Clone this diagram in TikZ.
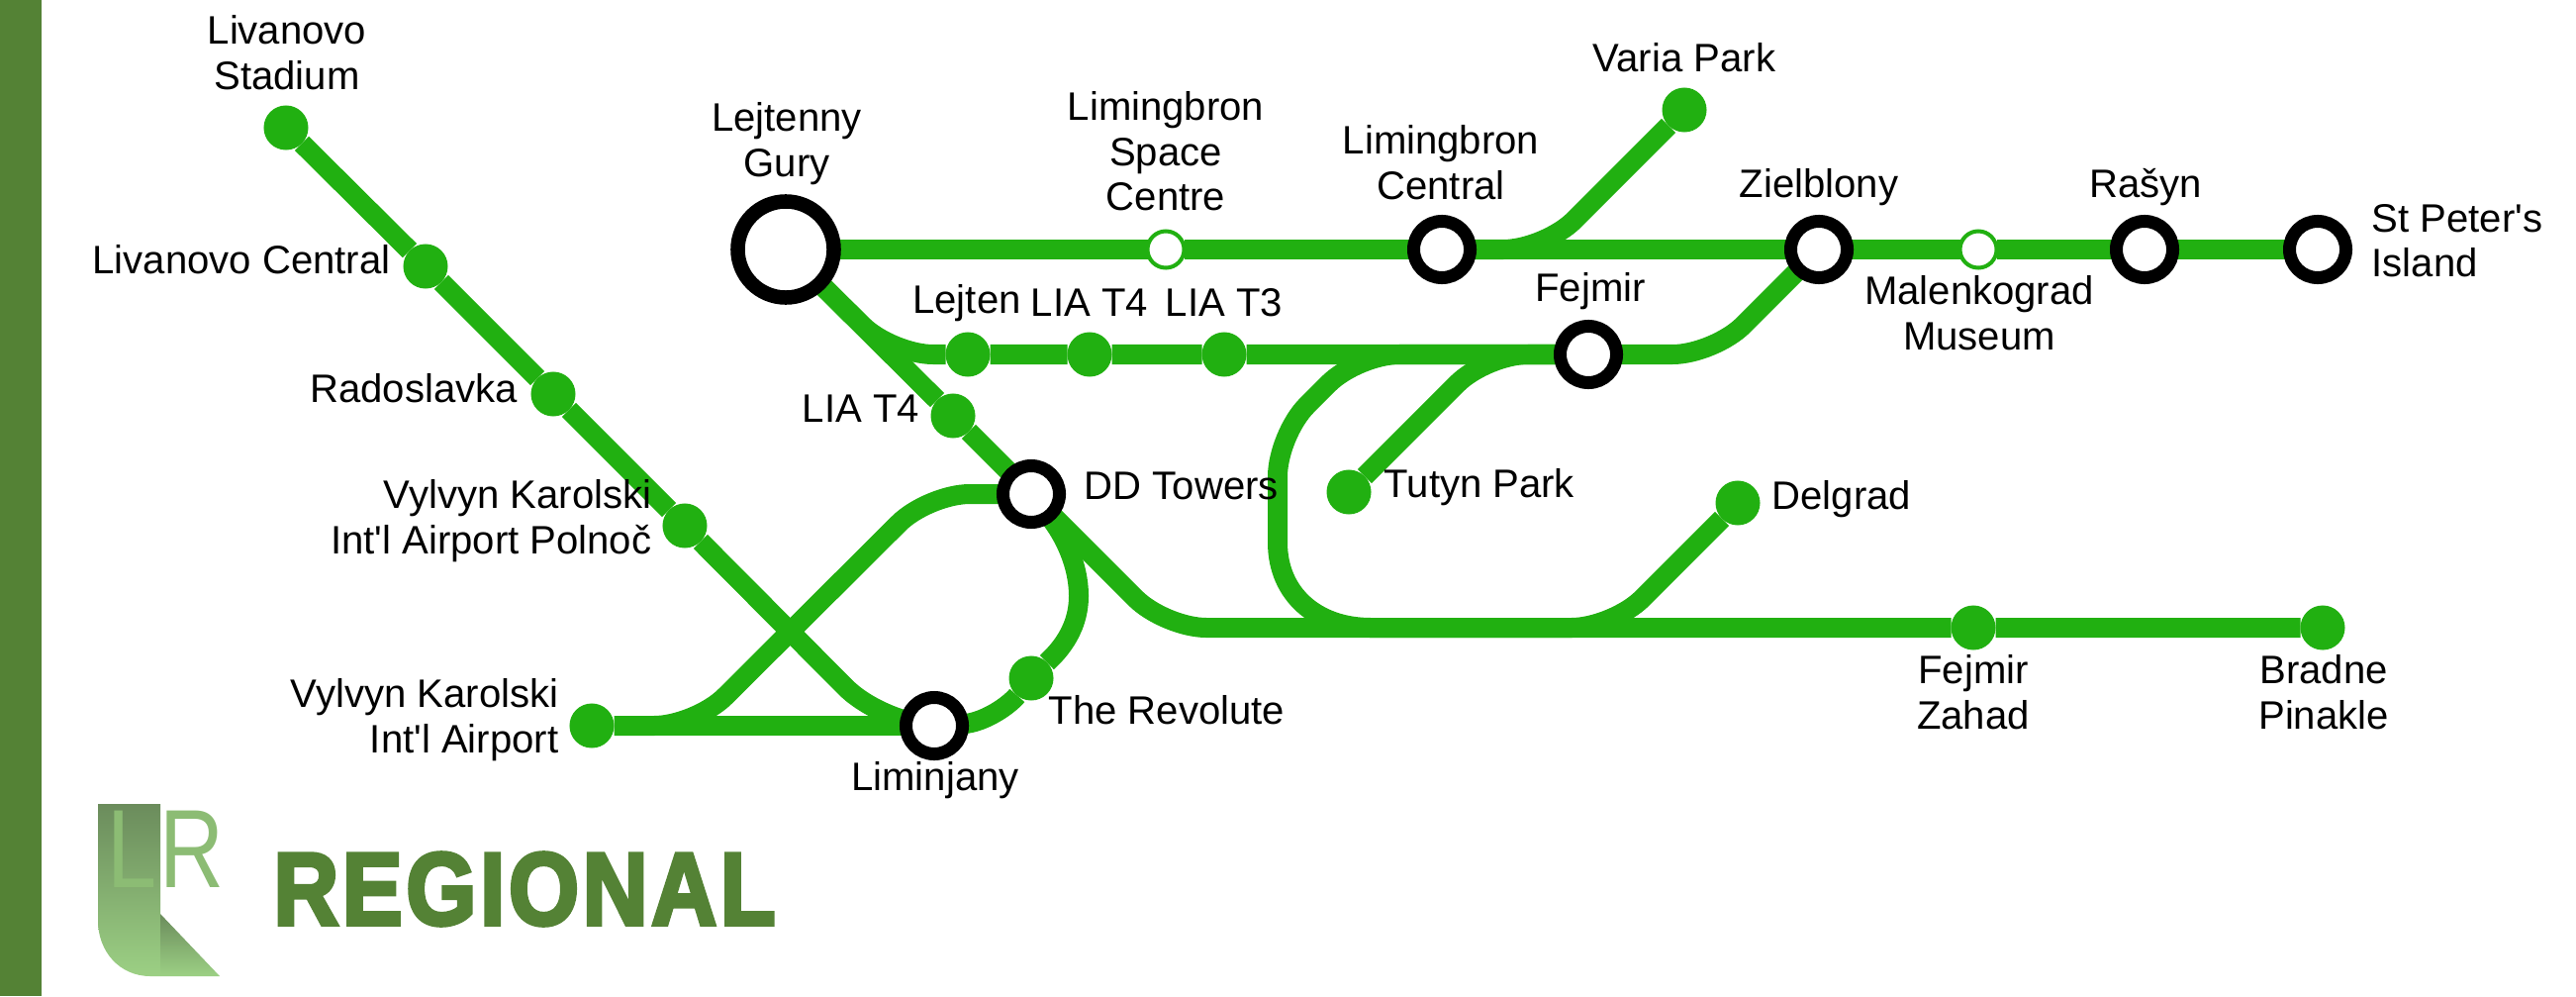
\documentclass[tikz,border=0pt]{standalone}
\usepackage{fontspec}
\usepackage{xcolor}
\usepackage{tikz}
\usetikzlibrary{backgrounds}
\setmainfont[Ligatures=TeXOff]{Liberation Sans}
\newfontfamily\regionalfont[LetterSpace=4,BoldFeatures={FakeBold=4}]{Liberation Sans}
\definecolor{linegreen}{HTML}{21B011}
\definecolor{bargreen}{HTML}{548235}
\definecolor{logoletter}{HTML}{8CBC74}
\definecolor{logotop}{HTML}{6B8C5C}
\definecolor{logobottom}{HTML}{9CD084}
\tikzset{
  metrocurve/.style={draw=linegreen,line width=0.2cm},
  metroline/.style={metrocurve,rounded corners=0.42cm},
  stopdot/.style={circle,fill=linegreen,minimum size=0.45cm,inner sep=0pt,outer sep=0pt},
  opendot/.style={circle,draw=linegreen,fill=white,line width=0.04cm,minimum size=0.37cm,inner sep=0pt,outer sep=0pt},
  ringstop/.style={circle,draw=black,fill=white,line width=0.13cm,minimum size=0.57cm,inner sep=0pt,outer sep=0pt},
  bigring/.style={circle,draw=black,fill=white,line width=0.145cm,minimum size=0.97cm,inner sep=0pt,outer sep=0pt},
  stationtext/.style={inner sep=0pt,align=center,font=\fontsize{11.4pt}{12.9pt}\selectfont},
}
\begin{document}
\begin{tikzpicture}[x=0.01cm,y=-0.01cm]
    \useasboundingbox (0,0) rectangle (2603,1006);
    \fill[bargreen] (0,0) rectangle (42,1006);
    % stations
    \node[stopdot] (stadium) at (289,129) {};
    \node[stopdot] (livcentral) at (430,269) {};
    \node[stopdot] (radoslavka) at (559,398) {};
    \node[stopdot] (polnoc) at (692,531) {};
    \node[ringstop] (liminjany) at (944,733) {};
    \node[stopdot] (airport) at (598,733) {};
    \node[ringstop] (ddtowers) at (1042,499) {};
    \node[stopdot] (revolute) at (1042,685) {};
    \node[bigring] (gury) at (794,252) {};
    \node[opendot] (spacecentre) at (1178,252) {};
    \node[ringstop] (limcentral) at (1457,252) {};
    \node[stopdot] (varia) at (1702,111) {};
    \node[ringstop] (zielblony) at (1838,252) {};
    \node[opendot] (malenkograd) at (1999,252) {};
    \node[ringstop] (rasyn) at (2167,252) {};
    \node[ringstop] (stpeter) at (2342,252) {};
    \node[stopdot] (lejten) at (978,358) {};
    \node[stopdot] (liafour) at (1101,358) {};
    \node[stopdot] (liathree) at (1237,358) {};
    \node[ringstop] (fejmir) at (1605,358) {};
    \node[stopdot] (liafourb) at (963,420) {};
    \node[stopdot] (tutyn) at (1363,497) {};
    \node[stopdot] (delgrad) at (1756,508) {};
    \node[stopdot] (zahad) at (1994,634) {};
    \node[stopdot] (bradne) at (2347,634) {};
    % corners of the lines
    \coordinate (variacorner) at (1561,252);
    \coordinate (fejmircorner) at (1732,358);
    \coordinate (lejtencorner) at (901,358);
    \coordinate (tutyncorner) at (1502,358);
    \coordinate (bottomcorner) at (1177,634);
    \coordinate (delgradcorner) at (1630,634);
    \coordinate (stadiumcorner) at (893,733);
    \coordinate (airportcorner) at (703,733);
    \coordinate (ddcorner) at (938,499);
    \coordinate (loopa) at (1372,358);
    \coordinate (loopb) at (1291,439);
    \coordinate (loopc) at (1291,548);
    \coordinate (loopend) at (1385,634);
    \coordinate (ddbulge) at (1090,602);
    % lines
    \begin{scope}[on background layer]
      \draw[metroline] (gury) -- (spacecentre) -- (limcentral) -- (zielblony) -- (malenkograd) -- (rasyn) -- (stpeter);
      \draw[metroline] (limcentral) -- (variacorner) -- (varia);
      \draw[metroline] (gury) -- (lejtencorner) -- (lejten) -- (liafour) -- (liathree) -- (fejmir);
      \draw[metroline] (fejmir) -- (fejmircorner) -- (zielblony);
      \draw[metroline] (tutyn) -- (tutyncorner) -- (fejmir);
      \draw[metroline] (gury) -- (liafourb) -- (ddtowers);
      \draw[metroline] (ddtowers) -- (bottomcorner) -- (zahad) -- (bradne);
      \draw[metroline] (loopend) -- (delgradcorner) -- (delgrad);
      \draw[metroline] (fejmir) -- (loopa) -- (loopb) -- (loopc);
      \draw[metrocurve] (loopc) .. controls (1291,600) and (1330,634) .. (loopend);
      \draw[metroline] (stadium) -- (livcentral) -- (radoslavka) -- (polnoc);
      \draw[metroline,rounded corners=0.55cm] (polnoc) -- (stadiumcorner) -- (liminjany);
      \draw[metroline] (airport) -- (liminjany);
      \draw[metroline] (airport) -- (airportcorner) -- (ddcorner) -- (ddtowers);
      \draw[metrocurve] (ddtowers) .. controls (1075,540) and (1090,570) .. (ddbulge);
      \draw[metrocurve] (ddbulge) .. controls (1090,640) and (1065,662) .. (revolute);
      \draw[metrocurve] (revolute) .. controls (1020,712) and (995,730) .. (liminjany);
    \end{scope}
    % labels
    \node[stationtext] (stadiumtext) at (290,53) {Livanovo\\Stadium};
    \node[stationtext] (livcentraltext) at (244,262) {Livanovo Central};
    \node[stationtext] (radoslavkatext) at (418,392) {Radoslavka};
    \node[stationtext,anchor=east,align=right] (polnoctext) at (659,526) {Vylvyn Karolski\\Int'l Airport Polnoč};
    \node[stationtext,anchor=east,align=right] (airporttext) at (565,727) {Vylvyn Karolski\\Int'l Airport};
    \node[stationtext] (gurytext) at (795,145) {Lejtenny\\Gury};
    \node[stationtext] (spacecentretext) at (1178,153) {Limingbron\\Space\\Centre};
    \node[stationtext] (limcentraltext) at (1456,164) {Limingbron\\Central};
    \node[stationtext] (variatext) at (1702,58) {Varia Park};
    \node[stationtext] (zielblonytext) at (1838,189) {Zielblony};
    \node[stationtext] (rasyntext) at (2168,189) {Rašyn};
    \node[stationtext,anchor=west,align=left] (stpetertext) at (2396,243) {St Peter's\\Island};
    \node[stationtext] (malenkogradtext) at (2000,316) {Malenkograd\\Museum};
    \node[stationtext] (fejmirtext) at (1607,294) {Fejmir};
    \node[stationtext] (lejtentext) at (977,306) {Lejten};
    \node[stationtext] (liafourtext) at (1101,306) {LIA T4};
    \node[stationtext] (liathreetext) at (1237,306) {LIA T3};
    \node[stationtext] (liafourbtext) at (870,413) {LIA T4};
    \node[stationtext,anchor=west] (ddtowerstext) at (1095,491) {DD Towers};
    \node[stationtext,anchor=west] (tutyntext) at (1398,492) {Tutyn Park};
    \node[stationtext,anchor=west] (delgradtext) at (1790,504) {Delgrad};
    \node[stationtext,anchor=west] (revolutetext) at (1059,717) {The Revolute};
    \node[stationtext] (liminjanytext) at (945,788) {Liminjany};
    \node[stationtext] (zahadtext) at (1994,699) {Fejmir\\Zahad};
    \node[stationtext] (bradnetext) at (2348,699) {Bradne\\Pinakle};
    % logo
    \shade[top color=logotop,bottom color=logobottom] (99,812) -- (162,812) -- (162,986) -- (152,986) .. controls (120,986) and (99,960) .. (99,930) -- cycle;
    \shade[top color=logotop,bottom color=logobottom] (162,923) -- (222,986) -- (162,986) -- cycle;
    \node[inner sep=0pt,text=logoletter,font=\fontsize{32pt}{32pt}\selectfont] (logol) at (134,858) {\scalebox{0.8}[1]{L}};
    \node[inner sep=0pt,text=logoletter,font=\fontsize{32pt}{32pt}\selectfont] (logor) at (194,858) {\scalebox{0.8}[1]{R}};
    \node[inner sep=0pt,text=bargreen,font=\fontsize{29.5pt}{29.5pt}\regionalfont\bfseries] (regional) at (530,898) {\scalebox{0.88}[1]{REGIONAL}};
\end{tikzpicture}
\end{document}
